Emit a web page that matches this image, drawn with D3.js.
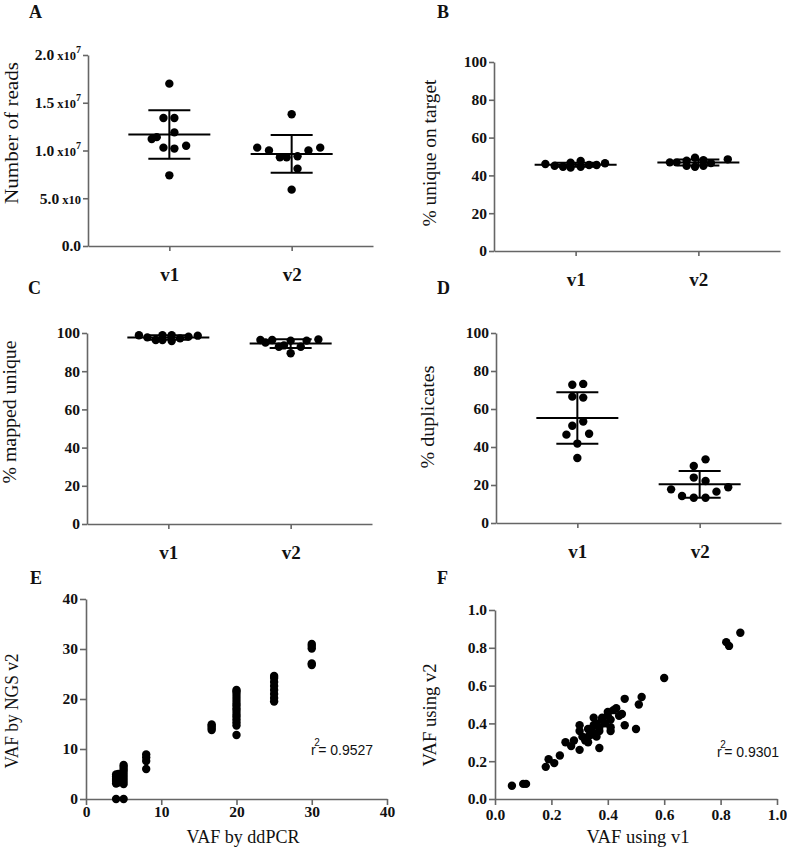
<!DOCTYPE html>
<html><head><meta charset="utf-8">
<script src="https://cdn.jsdelivr.net/npm/d3@7"></script>
<style>body{margin:0;background:#fff} svg{display:block}</style>
</head><body>
<script>
// ---------------- DATA ----------------
const groups = ["v1", "v2"];

// A: Number of reads
const readsV1 = [1.70e7, 1.34e7, 1.34e7, 1.19e7, 1.12e7, 1.14e7, 1.03e7, 1.02e7, 1.05e7, 0.74e7];
const readsV1Jitter = [0, -0.7, 0.6, 0.6, -2.1, -1.5, -0.7, 0.6, 2.0, 0];
const readsV2 = [1.38e7, 1.03e7, 1.00e7, 0.93e7, 0.93e7, 0.94e7, 0.81e7, 1.00e7, 1.03e7, 0.59e7];
const readsV2Jitter = [0, -4.1, -2.7, -1.4, -0.6, 0.7, 0.7, 2.0, 3.4, 0];
const readsTicks = [0, 5e6, 1e7, 1.5e7, 2e7];
const readsTickMant = ["0.0", "5.0", "1.0", "1.5", "2.0"];
const readsTickBase = ["", " x10", " x10", " x10", " x10"];
const readsTickExp = ["", "", "7", "7", "7"];

// B: % unique on target
const onTargetV1 = [46.0, 45.1, 44.6, 46.7, 44.1, 47.6, 44.6, 45.5, 45.5, 46.4];
const onTargetV1Jitter = [-3.6, -2.5, -1.5, -0.6, -0.6, 0.6, 0.6, 1.6, 2.5, 3.5];
const onTargetV2 = [46.9, 46.9, 47.8, 45.1, 49.3, 44.6, 48.0, 45.1, 46.5, 48.5];
const onTargetV2Jitter = [-3.4, -2.6, -1.4, -1.4, -0.4, -0.4, 0.6, 0.6, 1.5, 3.5];

// C: % mapped unique
const mappedV1 = [98.8, 97.7, 96.3, 98.9, 96.3, 98.9, 95.8, 97.2, 98.1, 98.6];
const mappedV1Jitter = [-3.5, -2.5, -1.5, -0.7, -0.7, 0.4, 0.4, 1.4, 2.4, 3.5];
const mappedV2 = [96.3, 95.0, 96.3, 92.8, 93.5, 89.4, 96.0, 92.8, 96.0, 96.6];
const mappedV2Jitter = [-3.6, -3.0, -2.2, -1.4, -0.8, 0, 0, 1.2, 1.9, 3.3];

// D: % duplicates
const dupV1 = [72.8, 73.2, 66.5, 66.0, 51.2, 53.4, 46.5, 47.0, 41.8, 34.2];
const dupV1Jitter = [-0.6, 0.7, -0.6, 0.7, -0.6, 0.7, -1.3, 1.4, 0, 0];
const dupV2 = [33.5, 30.0, 23.9, 22.1, 17.7, 18.8, 16.5, 14.2, 13.3, 13.3];
const dupV2Jitter = [0.7, -0.7, -0.7, 0.7, -3.4, 3.4, 2.0, -2.1, -0.7, 0.7];

const pctTicks = [0, 20, 40, 60, 80, 100];

// E: VAF by ddPCR vs NGS v2
const ddpcrVaf = [4, 4, 4, 4, 4, 4, 4.3, 4.3, 4.3,
  5, 5, 5, 5, 5, 5, 5, 5, 5,
  8, 8, 8, 8,
  16.7, 16.7, 16.7, 16.7,
  20, 20, 20, 20, 20, 20, 20, 20, 20, 20, 20, 20, 20, 20, 20,
  25, 25, 25, 25, 25, 25, 25, 25,
  30, 30, 30, 30, 30];
const ngsVaf = [0, 3.1, 3.6, 4.0, 4.5, 4.9, 3.3, 4.2, 5.0,
  0, 3.0, 3.6, 4.2, 4.8, 5.4, 5.9, 6.4, 6.8,
  6.0, 7.6, 8.3, 8.9,
  13.8, 14.2, 14.6, 14.9,
  12.8, 14.7, 15.3, 15.9, 16.5, 17.0, 17.6, 18.1, 18.7, 19.2, 19.8, 20.4, 21.0, 21.5, 21.8,
  19.5, 20.2, 21.0, 21.8, 22.6, 23.4, 24.2, 24.6,
  26.8, 27.1, 30.1, 30.6, 31.0];
const vafTicksE = [0, 10, 20, 30, 40];
const r2E = "0.9527";

// F: VAF using v1 vs v2
const vafV1 = [0.06, 0.10, 0.11, 0.18, 0.19, 0.21, 0.23, 0.25, 0.27, 0.28, 0.30, 0.30, 0.30,
  0.31, 0.33, 0.34, 0.35, 0.35, 0.36, 0.37, 0.37, 0.38, 0.39, 0.40, 0.41, 0.41, 0.42, 0.43,
  0.44, 0.45, 0.46, 0.46, 0.50, 0.51, 0.52, 0.60, 0.82, 0.83, 0.87,
  0.33, 0.37, 0.40, 0.36, 0.34, 0.32, 0.38, 0.41, 0.33, 0.35, 0.32];
const vafV2 = [0.07, 0.08, 0.08, 0.17, 0.21, 0.19, 0.23, 0.30, 0.28, 0.31, 0.26, 0.39, 0.36,
  0.33, 0.30, 0.37, 0.43, 0.39, 0.33, 0.27, 0.36, 0.42, 0.40, 0.44, 0.38, 0.36, 0.47, 0.48,
  0.44, 0.45, 0.53, 0.39, 0.37, 0.50, 0.54, 0.64, 0.83, 0.81, 0.88,
  0.37, 0.38, 0.46, 0.40, 0.34, 0.31, 0.43, 0.42, 0.33, 0.35, 0.32];
const vafTicksF = [0, 0.2, 0.4, 0.6, 0.8, 1.0];
const r2F = "0.9301";

// ---------------- DRAWING ----------------
const W = 787, H = 847;
const SERIF = "'Liberation Serif','Times New Roman',serif";
const SANS = "'Liberation Sans',Arial,sans-serif";
const AXC = "#666";
const DOT_R = 4.2, DOT_D = 8.4;

const svg = d3.select("body").append("svg").attr("width", W).attr("height", H)
  .style("font-family", SERIF);

function styleAxis(g) {
  g.select(".domain").attr("stroke", AXC).attr("stroke-width", 1.6);
  g.selectAll(".tick line").attr("stroke", AXC).attr("stroke-width", 1.6);
  g.selectAll(".tick text").attr("fill", "#111").style("font-family", SERIF)
    .style("font-weight", "bold").style("font-size", "15.5px");
}

function title(x, y, txt, len, rotate) {
  const t = svg.append("text").attr("font-size", 19).attr("fill", "#111")
    .attr("text-anchor", "middle").text(txt)
    .attr("textLength", len).attr("lengthAdjust", "spacingAndGlyphs");
  if (rotate) t.attr("transform", `translate(${x},${y}) rotate(-90)`);
  else t.attr("x", x).attr("y", y);
}

function letter(x, y, txt) {
  svg.append("text").attr("x", x).attr("y", y).attr("font-size", 18)
    .attr("font-weight", "bold").attr("fill", "#111").text(txt);
}

function dotPanel(cfg) {
  const x = d3.scalePoint().domain(groups).range([cfg.x0, cfg.x1]).padding(0.665);
  const y = d3.scaleLinear().domain(cfg.domain).range([cfg.yBot, cfg.yTop]);
  const g = svg.append("g");
  const ya = g.append("g").attr("transform", `translate(${cfg.x0},0)`)
    .call(d3.axisLeft(y).tickValues(cfg.ticks).tickSize(5).tickPadding(2).tickSizeOuter(0)
      .tickFormat(cfg.fmt || d3.format("d")));
  styleAxis(ya);
  if (cfg.richTicks) cfg.richTicks(ya);
  const xa = g.append("g").attr("transform", `translate(0,${cfg.yBot})`)
    .call(d3.axisBottom(x).tickSize(5).tickSizeOuter(0));
  styleAxis(xa);
  xa.selectAll(".tick text").attr("y", 35).attr("dy", 0).style("font-size", "19px");

  cfg.series.forEach((s, gi) => {
    const cx = x(groups[gi]);
    g.append("g").selectAll("circle").data(s.values).join("circle")
      .attr("cx", (d, i) => cx + s.jitter[i] * DOT_D)
      .attr("cy", d => y(d)).attr("r", DOT_R).attr("fill", "#000");
    const m = d3.mean(s.values), sd = d3.deviation(s.values);
    const eb = g.append("g").attr("stroke", "#000").attr("stroke-width", 2);
    eb.append("line").attr("x1", cx - 41).attr("x2", cx + 41).attr("y1", y(m)).attr("y2", y(m));
    eb.append("line").attr("x1", cx).attr("x2", cx).attr("y1", y(m - sd)).attr("y2", y(m + sd));
    eb.append("line").attr("x1", cx - 21).attr("x2", cx + 21).attr("y1", y(m + sd)).attr("y2", y(m + sd));
    eb.append("line").attr("x1", cx - 21).attr("x2", cx + 21).attr("y1", y(m - sd)).attr("y2", y(m - sd));
  });
}

// Panel A
dotPanel({
  x0: 88, x1: 373, yTop: 55, yBot: 246, domain: [0, 2e7], ticks: readsTicks,
  fmt: (d, i) => readsTickMant[i],
  richTicks: ya => {
    ya.selectAll(".tick text").each(function (d, i) {
      const t = d3.select(this).text(null);
      t.append("tspan").text(readsTickMant[i]).style("font-size", "15.5px");
      if (readsTickBase[i]) t.append("tspan").text(readsTickBase[i]).style("font-size", "12.5px");
      if (readsTickExp[i]) t.append("tspan").text(readsTickExp[i]).style("font-size", "10px").attr("dy", -7);
    });
  },
  series: [{values: readsV1, jitter: readsV1Jitter}, {values: readsV2, jitter: readsV2Jitter}]
});
// Panel B
dotPanel({
  x0: 494, x1: 780, yTop: 62, yBot: 251, domain: [0, 100], ticks: pctTicks,
  series: [{values: onTargetV1, jitter: onTargetV1Jitter}, {values: onTargetV2, jitter: onTargetV2Jitter}]
});
// Panel C
dotPanel({
  x0: 87, x1: 372, yTop: 333, yBot: 524, domain: [0, 100], ticks: pctTicks,
  series: [{values: mappedV1, jitter: mappedV1Jitter}, {values: mappedV2, jitter: mappedV2Jitter}]
});
// Panel D
dotPanel({
  x0: 496, x1: 781, yTop: 333, yBot: 523, domain: [0, 100], ticks: pctTicks,
  series: [{values: dupV1, jitter: dupV1Jitter}, {values: dupV2, jitter: dupV2Jitter}]
});

function scatterPanel(cfg) {
  const x = d3.scaleLinear().domain(cfg.domain).range([cfg.x0, cfg.x1]);
  const y = d3.scaleLinear().domain(cfg.domain).range([cfg.yBot, cfg.yTop]);
  const g = svg.append("g");
  const ya = g.append("g").attr("transform", `translate(${cfg.x0},0)`)
    .call(d3.axisLeft(y).tickValues(cfg.ticks).tickSize(6).tickPadding(2).tickSizeOuter(0).tickFormat(cfg.fmt));
  styleAxis(ya);
  const xa = g.append("g").attr("transform", `translate(0,${cfg.yBot})`)
    .call(d3.axisBottom(x).tickValues(cfg.ticks).tickSize(6).tickPadding(cfg.xpad).tickSizeOuter(0).tickFormat(cfg.fmt));
  styleAxis(xa);
  g.append("g").selectAll("circle").data(cfg.xs).join("circle")
    .attr("cx", d => x(d)).attr("cy", (d, i) => y(cfg.ys[i])).attr("r", DOT_R).attr("fill", "#000");
  const t = svg.append("text").attr("x", cfg.rx).attr("y", cfg.ry).attr("fill", "#111")
    .style("font-family", SANS).attr("font-size", 14);
  t.append("tspan").text("r");
  t.append("tspan").text("2").attr("font-size", 10).attr("dx", -1.5).attr("dy", -9);
  t.append("tspan").text("= " + cfg.r2).attr("dx", -1.5).attr("dy", 9);
}

scatterPanel({
  x0: 86, x1: 387, yTop: 599, yBot: 799, domain: [0, 40], ticks: vafTicksE,
  fmt: d3.format("d"), xpad: 1, xs: ddpcrVaf, ys: ngsVaf, r2: r2E, rx: 311, ry: 755
});
scatterPanel({
  x0: 495, x1: 777, yTop: 610, yBot: 799, domain: [0, 1], ticks: vafTicksF,
  fmt: d3.format(".1f"), xpad: 4, xs: vafV1, ys: vafV2, r2: r2F, rx: 717, ry: 757
});

// Titles
title(18, 133, "Number of reads", 142, true);
title(436, 153, "% unique on target", 147, true);
title(16, 412, "% mapped unique", 143, true);
title(434, 417, "% duplicates", 103, true);
title(18, 711, "VAF by NGS v2", 115, true);
title(243, 843, "VAF by ddPCR", 113, false);
title(436, 715, "VAF using v2", 103, true);
title(638, 843, "VAF using v1", 103, false);

// Panel letters
letter(29, 18, "A");
letter(437, 18, "B");
letter(28, 294, "C");
letter(437, 294, "D");
letter(30, 584, "E");
letter(437, 584, "F");
</script>
</body></html>
